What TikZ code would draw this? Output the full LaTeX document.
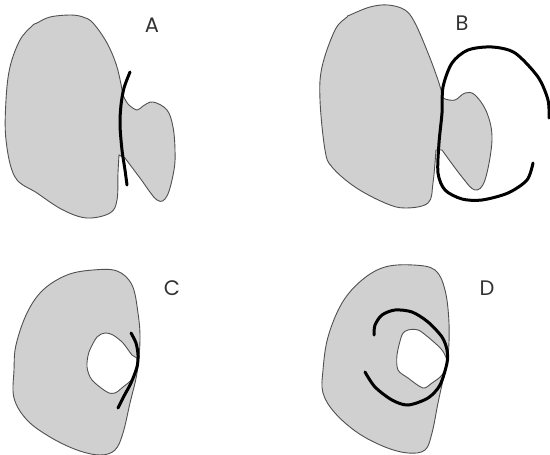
\documentclass[tikz,border=0pt]{standalone}
\usepackage{fontspec}
\setmainfont{Poppins}
\usepackage{tikz}
\usetikzlibrary{calc}
\definecolor{blobgray}{RGB}{208,208,208}
\definecolor{edgegray}{RGB}{80,80,80}

\begin{document}
\begin{tikzpicture}[x=1pt, y=-1pt, every node/.style={font=\fontsize{21}{21}\selectfont, text=black!80}]
\tikzset{blob/.style={fill=blobgray, draw=edgegray, line width=0.9pt}}
\tikzset{hole/.style={fill=white, draw=edgegray, line width=0.9pt}}
\tikzset{cut/.style={draw=black, line width=3pt, line cap=round}}
\useasboundingbox (0,0) rectangle (550,455);
% A
\path[blob] plot[smooth, tension=0.6] coordinates {(123,95) (117,67) (107,43) (93,23) (83,17) (70,15) (50,17) (37,23) (32,26) (20,40) (10,67) (6,100) (6,140) (15,177) (37,193) (63,210) (87,218) (110,213) (117,200) (118,173) (119,155)}
  -- plot[smooth, tension=0.6] coordinates {(125,158) (140,178) (157,200) (167,196) (174,170) (175,150) (173,127) (167,110) (153,102) (143,106) (137,110) (128,104) (123,95)} -- cycle;
\draw[cut] plot[smooth] coordinates {(130,72) (124,88) (121,105) (120,125) (122,150) (125,170) (127,185)};
\node (labA) at (152,25) {A};
% B
\path[blob] plot[smooth, tension=0.6] coordinates {(443,97) (438,80) (428,53) (415,23) (405,10) (388,5) (370,7) (350,15) (347,17) (335,30) (322,67) (320,100) (325,150) (332,167) (355,187) (385,203) (405,208) (428,203) (433,183) (436,150)}
  -- plot[smooth, tension=0.6] coordinates {(442,150) (462,177) (475,190) (485,180) (492,140) (487,113) (475,95) (465,93) (455,100) (445,99) (443,97)} -- cycle;
\draw[cut] plot[smooth] coordinates {(549,118) (548,100) (538,77) (515,53) (492,47) (468,50) (452,63) (443,87) (442,113) (439,143) (438,173) (445,190) (462,199) (482,200) (508,193) (527,180) (533,163)};
\node (labB) at (462,23) {B};
% C
\path[blob] plot[smooth cycle, tension=0.6] coordinates {(93,270) (117,271) (132,285) (138,313) (140,340) (137,373) (130,403) (123,433) (115,450) (100,455) (77,450) (50,437) (27,420) (14,398) (14,370) (16,345) (27,313) (43,290) (67,275)};
\path[hole] plot[smooth cycle, tension=0.5] coordinates {(105,333) (97,337) (89,352) (87,367) (92,380) (107,392) (115,393) (123,387) (133,378) (137,363) (137,358) (132,355) (123,343) (113,335)};
\draw[cut] plot[smooth] coordinates {(131,333) (136,343) (138,355) (137,367) (131,383) (124,396) (118,408)};
\node (labC) at (172,288) {C};
% D
\path[blob] plot[smooth cycle, tension=0.6] coordinates {(413,265) (435,270) (445,290) (449,323) (448,357) (443,380) (438,403) (432,433) (425,450) (408,453) (385,447) (358,433) (335,413) (323,393) (323,370) (328,337) (342,303) (362,280) (385,267)};
\path[hole] plot[smooth cycle, tension=0.5] coordinates {(408,330) (402,335) (397,355) (398,370) (408,378) (423,388) (432,383) (442,375) (447,362) (442,350) (428,337) (418,330)};
\draw[cut] plot[smooth] coordinates {(374,335) (375,325) (382,315) (395,310) (412,312) (428,322) (442,337) (447,350) (447,363) (440,385) (428,398) (408,405) (392,400) (375,387) (365,372)};
\node (labD) at (487,288) {D};
\end{tikzpicture}
\end{document}
